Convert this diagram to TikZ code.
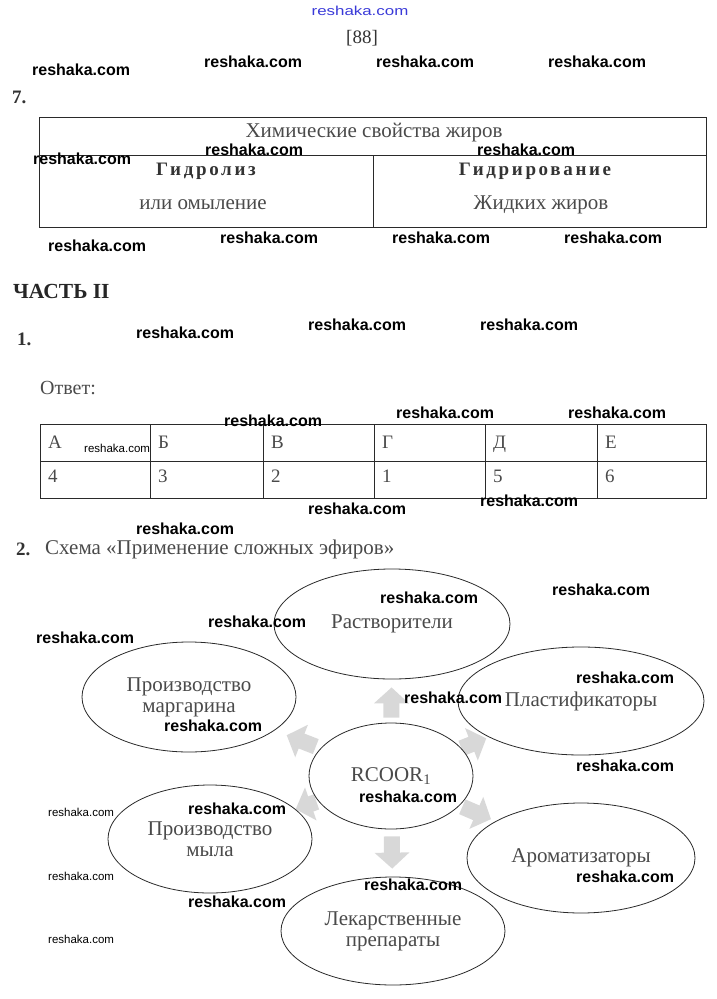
\documentclass[tikz,border=0pt]{standalone}
\usepackage{fontspec}
\setmainfont{Liberation Serif}
\newfontfamily\hbf[LetterSpace=14]{Liberation Serif}
\newfontfamily\wmf{Liberation Sans}
\newfontfamily\wmtop[FakeStretch=1.3]{Liberation Sans}
\usetikzlibrary{shapes.geometric,arrows.meta,backgrounds}
\definecolor{txt}{HTML}{4A4A4A}
\definecolor{dtxt}{HTML}{333333}
\definecolor{arr}{HTML}{D8D8D8}
\definecolor{ln}{HTML}{2A2A2A}
\definecolor{wblue}{HTML}{3A3AD8}
\begin{document}
\begin{tikzpicture}[x=1pt,y=-1pt,
  wm/.style={font=\wmf\bfseries\fontsize{16}{18}\selectfont, anchor=west, inner sep=0pt, text=black},
  wms/.style={font=\wmf\fontsize{11.5}{13}\selectfont, anchor=west, inner sep=0pt, text=black},
  el/.style={ellipse, draw=ln, line width=0.8pt, fill=white, inner sep=0pt, align=center, text=txt, font=\fontsize{21}{21}\selectfont},
  blk/.style={draw=arr, line width=16pt, -{Triangle[width=34pt,length=16pt]}},
  tbl/.style={draw=ln, line width=0.8pt},
  tt/.style={inner sep=0pt, text=txt, font=\fontsize{21}{22}\selectfont},
  hd/.style={inner sep=0pt, text=dtxt, font=\hbf\bfseries\fontsize{19}{20}\selectfont},
  num/.style={inner sep=0pt, anchor=west, text=dtxt, font=\bfseries\fontsize{19}{21}\selectfont},
  cell/.style={inner sep=0pt, anchor=base west, text=txt, font=\fontsize{19}{21}\selectfont}
]
\useasboundingbox (0,0) rectangle (716,999);

% header
\node[inner sep=0pt, text=wblue, font=\wmtop\fontsize{13}{15}\selectfont] (top) at (360,11) {reshaka.com};
\node[inner sep=0pt, text=dtxt, font=\fontsize{19}{21}\selectfont] (page) at (362,38) {[88]};
\node[num] (n7) at (12,97) {7.};

% table 1
\draw[tbl] (39,117) rectangle (706,227);
\draw[tbl] (39,155) -- (706,155);
\draw[tbl] (373,155) -- (373,227);
\node[tt] (t1h) at (374,133) {Химические свойства жиров};
\node[hd] (t1a) at (206,171) {Гидролиз};
\node[tt] (t1b) at (203,205) {или омыление};
\node[hd] (t1c) at (535,171) {Гидрирование};
\node[tt] (t1d) at (541,205) {Жидких жиров};

% part II
\node[num, font=\bfseries\fontsize{21.5}{22}\selectfont, text=black!85] (part) at (13,291) {ЧАСТЬ II};
\node[num] (n1) at (17,339) {1.};
\node[cell, anchor=west, font=\fontsize{20}{21}\selectfont] (otv) at (40,388) {Ответ:};

% table 2
\draw[tbl] (40,424) rectangle (706,498);
\draw[tbl] (40,461) -- (706,461);
\foreach \x in {150,263,374,485,597} \draw[tbl] (\x,424) -- (\x,498);
\node[cell] (cA) at (48,448) {А};
\node[cell] (cB) at (158,448) {Б};
\node[cell] (cV) at (271,448) {В};
\node[cell] (cG) at (382,448) {Г};
\node[cell] (cD) at (493,448) {Д};
\node[cell] (cE) at (605,448) {Е};
\node[cell] (v1) at (48,482) {4};
\node[cell] (v2) at (158,482) {3};
\node[cell] (v3) at (271,482) {2};
\node[cell] (v4) at (382,482) {1};
\node[cell] (v5) at (493,482) {5};
\node[cell] (v6) at (605,482) {6};

% scheme
\node[num] (n2) at (16,549) {2.};
\node[cell, anchor=west, font=\fontsize{21}{22}\selectfont] (sch) at (45,549) {Схема «Применение сложных эфиров»};

\node[el, minimum width=236pt, minimum height=110pt] (rast) at (392,624) {Растворители};
\node[el, minimum width=214pt, minimum height=110pt] (marg) at (189,697) {Производство\\маргарина};
\node[el, minimum width=246pt, minimum height=108pt] (plast) at (581,701) {Пластификаторы};
\node[el, minimum width=164pt, minimum height=106pt] (c) at (391,776) {RCOOR\textsubscript{1}};
\node[el, minimum width=204pt, minimum height=108pt] (soap) at (210,839) {Производство\\мыла};
\node[el, minimum width=228pt, minimum height=110pt] (arom) at (581,858) {Ароматизаторы};
\node[el, minimum width=224pt, minimum height=108pt] (lek) at (393,931) {Лекарственные\\препараты};

\begin{scope}[on background layer]
\draw[blk, shorten <=5pt, shorten >=8pt] (c) -- (rast);
\draw[blk, shorten <=7pt, shorten >=8pt] (c) -- (lek);
\draw[blk, shorten <=5pt, shorten >=13pt] (c) -- (marg);
\draw[blk, shorten <=2pt, shorten >=0pt] (c) -- (soap);
\draw[blk, shorten <=0pt, shorten >=3pt] (c) -- (plast);
\draw[blk, shorten <=3pt, shorten >=5pt] (c) -- (arom);
\end{scope}

% watermarks
\node[wm] (w1) at (32,70) {reshaka.com};
\node[wm] (w2) at (204,62) {reshaka.com};
\node[wm] (w3) at (376,62) {reshaka.com};
\node[wm] (w4) at (548,62) {reshaka.com};
\node[wm] (w5) at (33,159) {reshaka.com};
\node[wm] (w6) at (205,150) {reshaka.com};
\node[wm] (w7) at (477,150) {reshaka.com};
\node[wm] (w8) at (48,246) {reshaka.com};
\node[wm] (w9) at (220,238) {reshaka.com};
\node[wm] (w10) at (392,238) {reshaka.com};
\node[wm] (w11) at (564,238) {reshaka.com};
\node[wm] (w12) at (136,333) {reshaka.com};
\node[wm] (w13) at (308,325) {reshaka.com};
\node[wm] (w14) at (480,325) {reshaka.com};
\node[wms] (w15) at (84,448) {reshaka.com};
\node[wm] (w16) at (224,421) {reshaka.com};
\node[wm] (w17) at (396,413) {reshaka.com};
\node[wm] (w18) at (568,413) {reshaka.com};
\node[wm] (w19) at (308,509) {reshaka.com};
\node[wm] (w20) at (480,501) {reshaka.com};
\node[wm] (w21) at (136,529) {reshaka.com};
\node[wm] (w22) at (380,598) {reshaka.com};
\node[wm] (w23) at (552,590) {reshaka.com};
\node[wm] (w24) at (208,622) {reshaka.com};
\node[wm] (w25) at (36,638) {reshaka.com};
\node[wm] (w26) at (576,678) {reshaka.com};
\node[wm] (w27) at (404,698) {reshaka.com};
\node[wm] (w28) at (164,726) {reshaka.com};
\node[wm] (w29) at (576,766) {reshaka.com};
\node[wm] (w30) at (359,797) {reshaka.com};
\node[wm] (w31) at (188,809) {reshaka.com};
\node[wms] (w32) at (48,812) {reshaka.com};
\node[wms] (w33) at (48,876) {reshaka.com};
\node[wms] (w34) at (48,939) {reshaka.com};
\node[wm] (w35) at (576,877) {reshaka.com};
\node[wm] (w36) at (364,885) {reshaka.com};
\node[wm] (w37) at (188,902) {reshaka.com};
\end{tikzpicture}
\end{document}
